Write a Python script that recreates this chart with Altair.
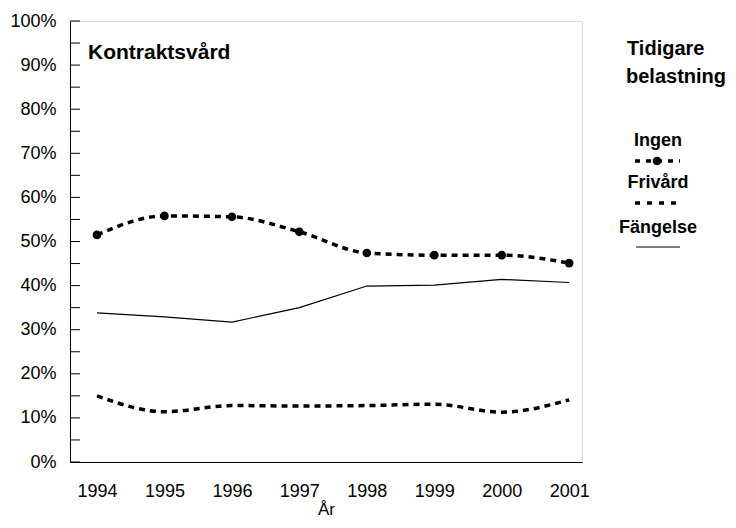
import altair as alt
import pandas as pd

years = [1994, 1995, 1996, 1997, 1998, 1999, 2000, 2001]
ingen = [51.5, 55.8, 55.6, 52.2, 47.4, 46.9, 46.9, 45.1]
frivard = [15.0, 11.4, 12.8, 12.7, 12.8, 13.1, 11.3, 14.1]
fangelse = [33.8, 32.9, 31.7, 35.0, 39.9, 40.1, 41.4, 40.7]
y_ticks = list(range(0, 101, 10))
minor_ticks = list(range(0, 101, 5))

FONT = "Liberation Sans"

df_ingen = pd.DataFrame({"year": years, "value": ingen})
df_friv = pd.DataFrame({"year": years, "value": frivard})
df_fang = pd.DataFrame({"year": years, "value": fangelse})
df_ticks = pd.DataFrame({"v": minor_ticks})
one = pd.DataFrame({"a": [0]})

xscale = alt.Scale(domain=[1993.6, 2001.19], nice=False, zero=False)
yscale = alt.Scale(domain=[0, 100], nice=False)

xaxis = alt.Axis(values=years, format="d", ticks=False, grid=False, labelPadding=20,
                 labelFontSize=18, labelFont=FONT, labelColor="black",
                 domainColor="black", title="År", titleFont=FONT, titleFontSize=17,
                 titleFontWeight="normal", titlePadding=1, titleColor="black")
yaxis = alt.Axis(values=y_ticks, labelExpr="datum.value + '%'", ticks=False, grid=False,
                 labelPadding=14, labelFontSize=18, labelFont=FONT, labelColor="black",
                 domainColor="black", title=None)

base_x = alt.X("year:Q", scale=xscale, axis=xaxis)
base_y = alt.Y("value:Q", scale=yscale, axis=yaxis)

ingen_line = alt.Chart(df_ingen).mark_line(
    color="black", strokeWidth=3.5, strokeDash=[6, 5], interpolate="monotone"
).encode(x=base_x, y=base_y)
ingen_pts = alt.Chart(df_ingen).mark_point(
    filled=True, color="black", size=75, opacity=1
).encode(x=alt.X("year:Q", scale=xscale), y=alt.Y("value:Q", scale=yscale))
friv_line = alt.Chart(df_friv).mark_line(
    color="black", strokeWidth=3.5, strokeDash=[6, 5], interpolate="monotone"
).encode(x=alt.X("year:Q", scale=xscale), y=alt.Y("value:Q", scale=yscale))
fang_line = alt.Chart(df_fang).mark_line(
    color="black", strokeWidth=1.2
).encode(x=alt.X("year:Q", scale=xscale), y=alt.Y("value:Q", scale=yscale))

ticks = alt.Chart(df_ticks).mark_rule(color="black", strokeWidth=1).encode(
    y=alt.Y("v:Q", scale=yscale), x=alt.value(0), x2=alt.value(10)
)

def txt(s, x, y, size, align="left", weight="bold"):
    return alt.Chart(one).mark_text(
        text=s, font=FONT, fontSize=size, fontWeight=weight, align=align,
        baseline="alphabetic", color="black"
    ).encode(x=alt.value(x), y=alt.value(y))

def rule(x1, x2, y, dash=None, width=3.5):
    kw = dict(color="black", strokeWidth=width)
    if dash:
        kw["strokeDash"] = dash
    return alt.Chart(one).mark_rule(**kw).encode(x=alt.value(x1), x2=alt.value(x2), y=alt.value(y))

legend = [
    txt("Kontraktsvård", 18, 38, 21),
    txt("Tidigare", 557, 34, 20),
    txt("belastning", 556, 62, 20),
    txt("Ingen", 588, 125, 18, align="center"),
    rule(565, 610, 140, dash=[5, 6]),
    alt.Chart(one).mark_point(filled=True, color="black", size=75, opacity=1).encode(
        x=alt.value(587), y=alt.value(140)),
    txt("Frivård", 588, 167, 18, align="center"),
    rule(565, 610, 182, dash=[5, 7]),
    txt("Fängelse", 588, 212, 18, align="center"),
    rule(566, 610, 226, width=1.2),
]

chart = alt.layer(
    fang_line, friv_line, ingen_line, ingen_pts, ticks, *legend
).properties(
    width=512, height=441,
    autosize=alt.AutoSizeParams(type="none"),
    padding={"left": 62, "top": 13, "right": 146, "bottom": 58},
).configure_view(stroke="#808080", strokeWidth=1).configure(background="white")

chart.save("out.html", embed_options={"renderer": "svg", "actions": False})
